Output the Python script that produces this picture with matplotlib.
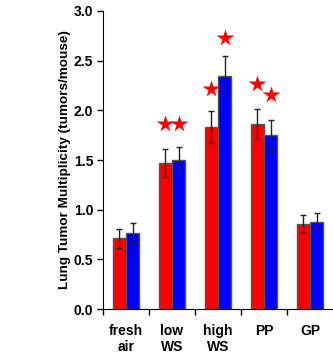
import matplotlib.pyplot as plt
import numpy as np

plt.rcParams['font.family'] = ['Liberation Sans', 'DejaVu Sans']
plt.rcParams['font.weight'] = 'bold'

groups = ['fresh\nair', 'low\nWS', 'high\nWS', 'PP', 'GP']
red_vals = [0.71, 1.47, 1.83, 1.86, 0.86]
red_err = [0.10, 0.14, 0.16, 0.15, 0.09]
blue_vals = [0.77, 1.50, 2.35, 1.75, 0.88]
blue_err = [0.10, 0.13, 0.20, 0.15, 0.09]
# significance stars: (group index, series, height)
stars = [(1, 'red', 1.86), (1, 'blue', 1.86),
         (2, 'red', 2.21), (2, 'blue', 2.73),
         (3, 'red', 2.27), (3, 'blue', 2.15)]

x = np.arange(len(groups))
w = 0.29

fig = plt.figure(figsize=(3.33, 3.54), dpi=100)
ax = fig.add_axes([0.309, 0.127, 0.691, 0.842])

ax.bar(x - w/2, red_vals, w, color='#ff0000', edgecolor='#555555', lw=1,
       yerr=red_err, error_kw=dict(ecolor='#222222', elinewidth=1, capsize=2, capthick=1))
ax.bar(x + w/2, blue_vals, w, color='#0000ff', edgecolor='#555555', lw=1,
       yerr=blue_err, error_kw=dict(ecolor='#222222', elinewidth=1, capsize=2, capthick=1))

for gi, s, h in stars:
    off = -w/2 if s == 'red' else w/2
    ax.plot(gi + off * 1.1, h, marker='*', color='#ff0000', ms=13, mec='none')

ax.set_xlim(-0.5, 4.5)
ax.set_ylim(0, 3.0)
ax.set_yticks(np.arange(0, 3.01, 0.5))
ax.set_yticklabels(['%.1f' % v for v in np.arange(0, 3.01, 0.5)], fontsize=10, fontweight='bold')
ax.set_xticks(np.arange(-0.5, 4.0, 1.0))
ax.set_xticklabels([])
ax.set_xticks(x, minor=True)
ax.set_xticklabels(groups, minor=True, fontsize=10, fontweight='bold', linespacing=1.15)
ax.tick_params(axis='x', which='minor', length=0, pad=11)
ax.tick_params(axis='x', which='major', length=4, direction='out', width=1)
ax.tick_params(axis='y', length=4, direction='out', width=1, pad=3)

ax.set_ylabel('Lung Tumor Multiplicity (tumors/mouse)', fontsize=9.7, fontweight='bold', labelpad=2)
ax.spines['top'].set_visible(False)
ax.spines['right'].set_visible(False)

fig.savefig('out.png', dpi=100)
